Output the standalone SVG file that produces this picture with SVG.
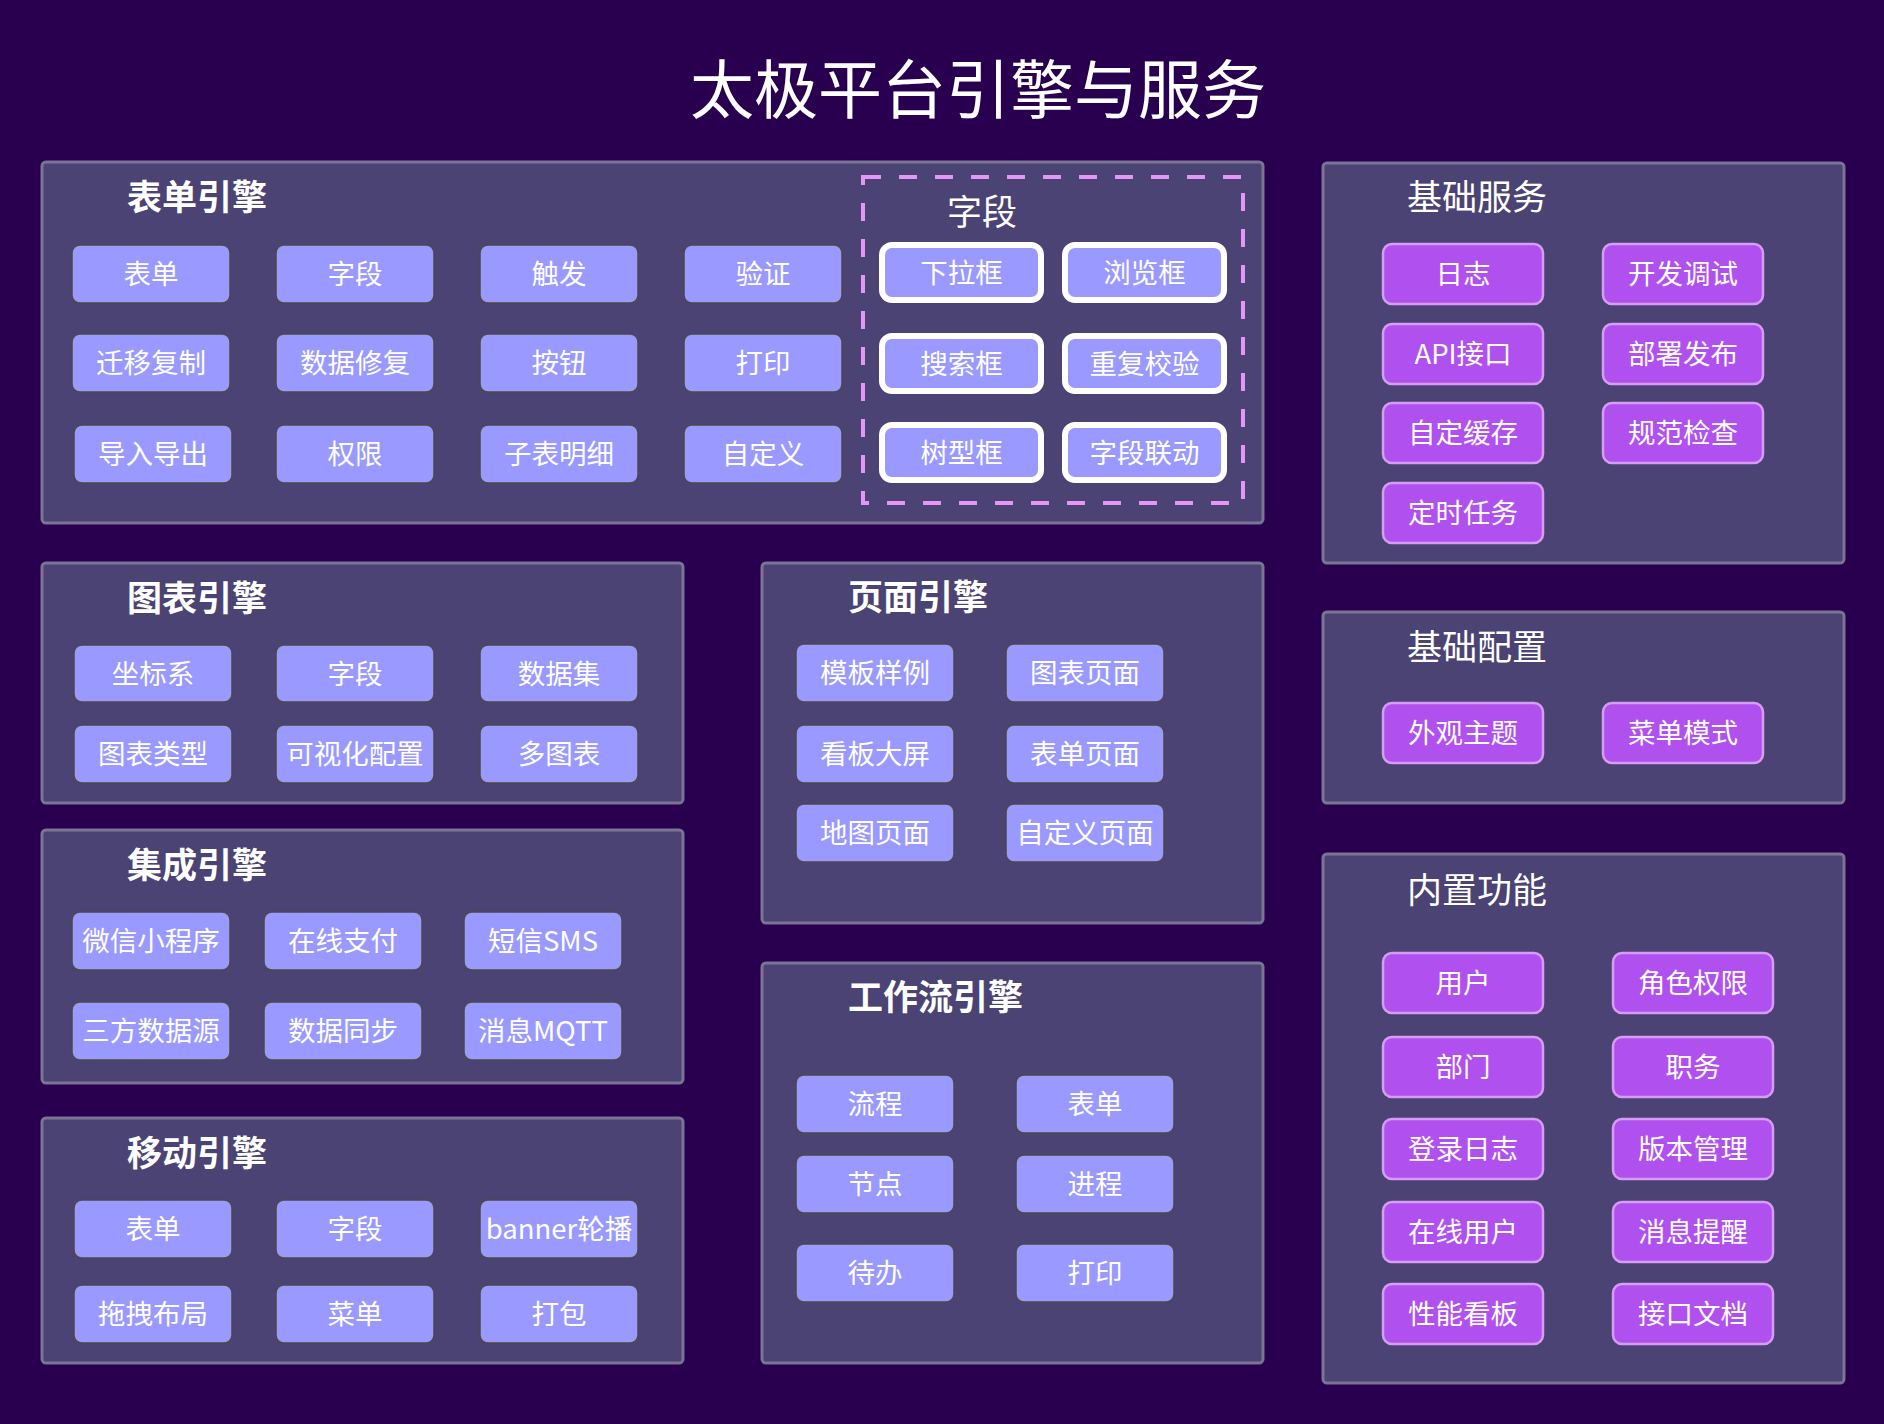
<svg xmlns="http://www.w3.org/2000/svg" width="1884" height="1424" viewBox="0 0 1884 1424">
<style>
text{font-family:"Noto Sans CJK SC","Noto Sans",sans-serif;fill:#ffffff;dominant-baseline:central}
.panel{fill:#4a4373;stroke:#7b7494;stroke-width:3}
.ptitle{font-size:35px;font-weight:bold}
.ptitle2{font-size:35px}
.n{fill:#9999ff;stroke:#4a4a4a;stroke-width:1.5}
.nw{fill:#9999ff;stroke:#ffffff;stroke-width:6}
.np{fill:#b050ee;stroke:#d79cf6;stroke-width:2.5}
.t{font-size:27.5px;text-anchor:middle}
.dash{fill:none;stroke:#e496f6;stroke-width:4;stroke-dasharray:18 18}
</style>
<rect x="0" y="0" width="1884" height="1424" fill="#28004f"/>
<text x="978" y="85" font-size="64" text-anchor="middle">太极平台引擎与服务</text>
<g id="connectors"/>

<g id="panel-form">
<rect class="panel" x="42" y="162" width="1221" height="361" rx="4"/>
<text class="ptitle" x="127" y="194">表单引擎</text>
</g>
<g id="form-n1"><rect class="n" x="72" y="245" width="158" height="58" rx="8"/><text class="t" x="151" y="272">表单</text></g>
<g id="form-n2"><rect class="n" x="276" y="245" width="158" height="58" rx="8"/><text class="t" x="355" y="272">字段</text></g>
<g id="form-n3"><rect class="n" x="480" y="245" width="158" height="58" rx="8"/><text class="t" x="559" y="272">触发</text></g>
<g id="form-n4"><rect class="n" x="684" y="245" width="158" height="58" rx="8"/><text class="t" x="763" y="272">验证</text></g>
<g id="form-n5"><rect class="n" x="72" y="334" width="158" height="58" rx="8"/><text class="t" x="151" y="361">迁移复制</text></g>
<g id="form-n6"><rect class="n" x="276" y="334" width="158" height="58" rx="8"/><text class="t" x="355" y="361">数据修复</text></g>
<g id="form-n7"><rect class="n" x="480" y="334" width="158" height="58" rx="8"/><text class="t" x="559" y="361">按钮</text></g>
<g id="form-n8"><rect class="n" x="684" y="334" width="158" height="58" rx="8"/><text class="t" x="763" y="361">打印</text></g>
<g id="form-n9"><rect class="n" x="74" y="425" width="158" height="58" rx="8"/><text class="t" x="153" y="452">导入导出</text></g>
<g id="form-n10"><rect class="n" x="276" y="425" width="158" height="58" rx="8"/><text class="t" x="355" y="452">权限</text></g>
<g id="form-n11"><rect class="n" x="480" y="425" width="158" height="58" rx="8"/><text class="t" x="559" y="452">子表明细</text></g>
<g id="form-n12"><rect class="n" x="684" y="425" width="158" height="58" rx="8"/><text class="t" x="763" y="452">自定义</text></g>

<g id="field-group">
<rect class="dash" x="863" y="177" width="380" height="326"/>
<text x="982" y="209" font-size="35" text-anchor="middle">字段</text>
</g>
<g id="field-n1"><rect class="nw" x="882" y="245" width="159" height="55" rx="10"/><text class="t" x="961.5" y="270.5">下拉框</text></g>
<g id="field-n2"><rect class="nw" x="1065" y="245" width="159" height="55" rx="10"/><text class="t" x="1144.5" y="270.5">浏览框</text></g>
<g id="field-n3"><rect class="nw" x="882" y="336" width="159" height="55" rx="10"/><text class="t" x="961.5" y="361.5">搜索框</text></g>
<g id="field-n4"><rect class="nw" x="1065" y="336" width="159" height="55" rx="10"/><text class="t" x="1144.5" y="361.5">重复校验</text></g>
<g id="field-n5"><rect class="nw" x="882" y="425" width="159" height="55" rx="10"/><text class="t" x="961.5" y="450.5">树型框</text></g>
<g id="field-n6"><rect class="nw" x="1065" y="425" width="159" height="55" rx="10"/><text class="t" x="1144.5" y="450.5">字段联动</text></g>

<g id="panel-chart">
<rect class="panel" x="42" y="563" width="641" height="240" rx="4"/>
<text class="ptitle" x="127" y="595">图表引擎</text>
</g>
<g id="chart-n1"><rect class="n" x="74" y="645" width="158" height="57" rx="8"/><text class="t" x="153" y="671.5">坐标系</text></g>
<g id="chart-n2"><rect class="n" x="276" y="645" width="158" height="57" rx="8"/><text class="t" x="355" y="671.5">字段</text></g>
<g id="chart-n3"><rect class="n" x="480" y="645" width="158" height="57" rx="8"/><text class="t" x="559" y="671.5">数据集</text></g>
<g id="chart-n4"><rect class="n" x="74" y="725" width="158" height="58" rx="8"/><text class="t" x="153" y="752">图表类型</text></g>
<g id="chart-n5"><rect class="n" x="276" y="725" width="158" height="58" rx="8"/><text class="t" x="355" y="752">可视化配置</text></g>
<g id="chart-n6"><rect class="n" x="480" y="725" width="158" height="58" rx="8"/><text class="t" x="559" y="752">多图表</text></g>

<g id="panel-integration">
<rect class="panel" x="42" y="830" width="641" height="253" rx="4"/>
<text class="ptitle" x="127" y="862">集成引擎</text>
</g>
<g id="int-n1"><rect class="n" x="72" y="912" width="158" height="58" rx="8"/><text class="t" x="151" y="939">微信小程序</text></g>
<g id="int-n2"><rect class="n" x="264" y="912" width="158" height="58" rx="8"/><text class="t" x="343" y="939">在线支付</text></g>
<g id="int-n3"><rect class="n" x="464" y="912" width="158" height="58" rx="8"/><text class="t" x="543" y="939">短信SMS</text></g>
<g id="int-n4"><rect class="n" x="72" y="1002" width="158" height="58" rx="8"/><text class="t" x="151" y="1029">三方数据源</text></g>
<g id="int-n5"><rect class="n" x="264" y="1002" width="158" height="58" rx="8"/><text class="t" x="343" y="1029">数据同步</text></g>
<g id="int-n6"><rect class="n" x="464" y="1002" width="158" height="58" rx="8"/><text class="t" x="543" y="1029">消息MQTT</text></g>

<g id="panel-mobile">
<rect class="panel" x="42" y="1118" width="641" height="245" rx="4"/>
<text class="ptitle" x="127" y="1150">移动引擎</text>
</g>
<g id="mob-n1"><rect class="n" x="74" y="1200" width="158" height="58" rx="8"/><text class="t" x="153" y="1227">表单</text></g>
<g id="mob-n2"><rect class="n" x="276" y="1200" width="158" height="58" rx="8"/><text class="t" x="355" y="1227">字段</text></g>
<g id="mob-n3"><rect class="n" x="480" y="1200" width="158" height="58" rx="8"/><text class="t" x="559" y="1227">banner轮播</text></g>
<g id="mob-n4"><rect class="n" x="74" y="1285" width="158" height="58" rx="8"/><text class="t" x="153" y="1312">拖拽布局</text></g>
<g id="mob-n5"><rect class="n" x="276" y="1285" width="158" height="58" rx="8"/><text class="t" x="355" y="1312">菜单</text></g>
<g id="mob-n6"><rect class="n" x="480" y="1285" width="158" height="58" rx="8"/><text class="t" x="559" y="1312">打包</text></g>

<g id="panel-page">
<rect class="panel" x="762" y="563" width="501" height="360" rx="4"/>
<text class="ptitle" x="848" y="594">页面引擎</text>
</g>
<g id="page-n1"><rect class="n" x="796" y="644" width="158" height="58" rx="8"/><text class="t" x="875" y="671">模板样例</text></g>
<g id="page-n2"><rect class="n" x="1006" y="644" width="158" height="58" rx="8"/><text class="t" x="1085" y="671">图表页面</text></g>
<g id="page-n3"><rect class="n" x="796" y="725" width="158" height="58" rx="8"/><text class="t" x="875" y="752">看板大屏</text></g>
<g id="page-n4"><rect class="n" x="1006" y="725" width="158" height="58" rx="8"/><text class="t" x="1085" y="752">表单页面</text></g>
<g id="page-n5"><rect class="n" x="796" y="804" width="158" height="58" rx="8"/><text class="t" x="875" y="831">地图页面</text></g>
<g id="page-n6"><rect class="n" x="1006" y="804" width="158" height="58" rx="8"/><text class="t" x="1085" y="831">自定义页面</text></g>

<g id="panel-workflow">
<rect class="panel" x="762" y="963" width="501" height="400" rx="4"/>
<text class="ptitle" x="848" y="994">工作流引擎</text>
</g>
<g id="wf-n1"><rect class="n" x="796" y="1075" width="158" height="58" rx="8"/><text class="t" x="875" y="1102">流程</text></g>
<g id="wf-n2"><rect class="n" x="1016" y="1075" width="158" height="58" rx="8"/><text class="t" x="1095" y="1102">表单</text></g>
<g id="wf-n3"><rect class="n" x="796" y="1155" width="158" height="58" rx="8"/><text class="t" x="875" y="1182">节点</text></g>
<g id="wf-n4"><rect class="n" x="1016" y="1155" width="158" height="58" rx="8"/><text class="t" x="1095" y="1182">进程</text></g>
<g id="wf-n5"><rect class="n" x="796" y="1244" width="158" height="58" rx="8"/><text class="t" x="875" y="1271">待办</text></g>
<g id="wf-n6"><rect class="n" x="1016" y="1244" width="158" height="58" rx="8"/><text class="t" x="1095" y="1271">打印</text></g>

<g id="panel-basic-service">
<rect class="panel" x="1323" y="163" width="521" height="400" rx="4"/>
<text class="ptitle2" x="1407" y="194">基础服务</text>
</g>
<g id="bs-n1"><rect class="np" x="1383" y="244" width="160" height="60" rx="9"/><text class="t" x="1463" y="272">日志</text></g>
<g id="bs-n2"><rect class="np" x="1603" y="244" width="160" height="60" rx="9"/><text class="t" x="1683" y="272">开发调试</text></g>
<g id="bs-n3"><rect class="np" x="1383" y="324" width="160" height="60" rx="9"/><text class="t" x="1463" y="352">API接口</text></g>
<g id="bs-n4"><rect class="np" x="1603" y="324" width="160" height="60" rx="9"/><text class="t" x="1683" y="352">部署发布</text></g>
<g id="bs-n5"><rect class="np" x="1383" y="403" width="160" height="60" rx="9"/><text class="t" x="1463" y="431">自定缓存</text></g>
<g id="bs-n6"><rect class="np" x="1603" y="403" width="160" height="60" rx="9"/><text class="t" x="1683" y="431">规范检查</text></g>
<g id="bs-n7"><rect class="np" x="1383" y="483" width="160" height="60" rx="9"/><text class="t" x="1463" y="511">定时任务</text></g>

<g id="panel-basic-config">
<rect class="panel" x="1323" y="612" width="521" height="191" rx="4"/>
<text class="ptitle2" x="1407" y="644">基础配置</text>
</g>
<g id="bc-n1"><rect class="np" x="1383" y="703" width="160" height="60" rx="9"/><text class="t" x="1463" y="731">外观主题</text></g>
<g id="bc-n2"><rect class="np" x="1603" y="703" width="160" height="60" rx="9"/><text class="t" x="1683" y="731">菜单模式</text></g>

<g id="panel-builtin">
<rect class="panel" x="1323" y="854" width="521" height="529" rx="4"/>
<text class="ptitle2" x="1407" y="887">内置功能</text>
</g>
<g id="bi-n1"><rect class="np" x="1383" y="953" width="160" height="60" rx="9"/><text class="t" x="1463" y="981">用户</text></g>
<g id="bi-n2"><rect class="np" x="1613" y="953" width="160" height="60" rx="9"/><text class="t" x="1693" y="981">角色权限</text></g>
<g id="bi-n3"><rect class="np" x="1383" y="1037" width="160" height="60" rx="9"/><text class="t" x="1463" y="1065">部门</text></g>
<g id="bi-n4"><rect class="np" x="1613" y="1037" width="160" height="60" rx="9"/><text class="t" x="1693" y="1065">职务</text></g>
<g id="bi-n5"><rect class="np" x="1383" y="1119" width="160" height="60" rx="9"/><text class="t" x="1463" y="1147">登录日志</text></g>
<g id="bi-n6"><rect class="np" x="1613" y="1119" width="160" height="60" rx="9"/><text class="t" x="1693" y="1147">版本管理</text></g>
<g id="bi-n7"><rect class="np" x="1383" y="1202" width="160" height="60" rx="9"/><text class="t" x="1463" y="1230">在线用户</text></g>
<g id="bi-n8"><rect class="np" x="1613" y="1202" width="160" height="60" rx="9"/><text class="t" x="1693" y="1230">消息提醒</text></g>
<g id="bi-n9"><rect class="np" x="1383" y="1284" width="160" height="60" rx="9"/><text class="t" x="1463" y="1312">性能看板</text></g>
<g id="bi-n10"><rect class="np" x="1613" y="1284" width="160" height="60" rx="9"/><text class="t" x="1693" y="1312">接口文档</text></g>
</svg>
